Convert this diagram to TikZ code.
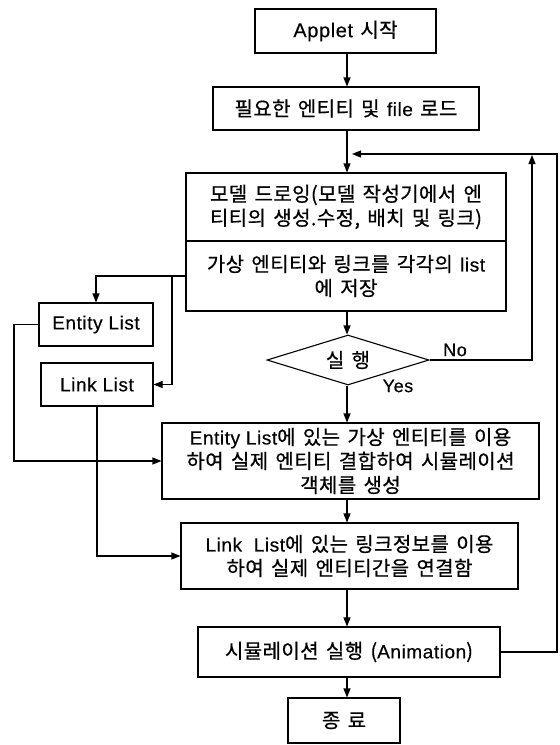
\documentclass[tikz,border=0pt]{standalone}
\usepackage{fontspec}
\setmainfont{Noto Sans CJK KR}[LetterSpace=2,WordSpace=1.5,FakeBold=0.6]
\newfontfamily\lat{Liberation Sans}[LetterSpace=3,FakeBold=0.4]
\newcommand{\la}[1]{{\lat\fontsize{19}{24}\selectfont #1}}
\usetikzlibrary{arrows.meta,shapes.geometric}
\tikzset{
  box/.style={draw, line width=1.1pt, align=center, inner sep=0pt},
  ln/.style={line width=1.1pt},
  arr/.style={line width=1.1pt, -{Triangle[length=9pt,width=7pt]}},
  lbl/.style={font=\lat\fontsize{18}{20}\selectfont, inner sep=0pt}
}
\begin{document}
\begin{tikzpicture}[x=1pt,y=-1pt,font=\fontsize{20}{24}\selectfont]
\useasboundingbox (0,0) rectangle (560,745);
\coordinate (col) at (347,0);
% main column
\node[box, minimum width=181pt, minimum height=44pt] (app) at (345.5,31) {{\lat\fontsize{20}{24}\selectfont Applet} 시작};
\node[box, minimum width=266pt, minimum height=43pt] (load) at (346,108.5) {필요한 엔티티 및 \la{file} 로드};
\node[box, minimum width=320pt, minimum height=68pt] (m1) at (346,207) {모델 드로잉(모델 작성기에서 엔\\티티의 생성.수정, 배치 및 링크)};
\node[box, minimum width=320pt, minimum height=70pt] (m2) at (346,276) {가상 엔티티와 링크를 각각의 \la{list}\\에 저장};
\node[draw, line width=1.1pt, shape=diamond, aspect=3.2, inner sep=0pt, minimum width=162pt, minimum height=50pt] (dia) at (348,360) {실 행};
\node[box, minimum width=377pt, minimum height=76pt] (b3) at (350.5,461) {\la{Entity List}에 있는 가상 엔티티를 이용\\하여 실제 엔티티 결합하여 시뮬레이션\\객체를 생성};
\node[box, minimum width=337pt, minimum height=66pt] (b4) at (349.5,556) {\la{Link\ \ List}에 있는 링크정보를 이용\\하여 실제 엔티티간을 연결함};
\node[box, minimum width=302pt, minimum height=50pt] (b5) at (349,652) {시뮬레이션 실행 (\la{Animation})};
\node[box, minimum width=112pt, minimum height=45pt] (end) at (344,720.5) {종 료};
% side lists
\node[box, minimum width=114pt, minimum height=43pt] (en) at (96,324.5) {\la{Entity List}};
\node[box, minimum width=112pt, minimum height=43pt] (lk) at (97,384.5) {\la{Link List}};
% labels
\node[lbl] (no) at (455,350) {No};
\node[lbl] (yes) at (398,386) {Yes};
% coordinates
\coordinate (fbR) at (557,154);
\coordinate (fbEnd) at (352,154);
\coordinate (noUp) at (532,155);
\coordinate (bx) at (172,276);
\coordinate (eL) at (14,461);
% main arrows
\draw[arr] (app.south -| col) -- (load.north -| col);
\draw[arr] (load.south -| col) -- (m1.north -| col);
\draw[arr] (m2.south -| col) -- (dia.north -| col);
\draw[arr] (dia.south -| col) -- (b3.north -| col);
\draw[arr] (b3.south -| col) -- (b4.north -| col);
\draw[arr] (b4.south -| col) -- (b5.north -| col);
\draw[arr] (b5.south -| col) -- (end.north -| col);
% loops
\draw[arr] (dia.east) -| (noUp);
\draw[arr] (b5.east) -| (fbR) -- (fbEnd);
% branches
\draw[arr] (m2.west) -| (en.north);
\draw[arr] (bx) |- (lk.east);
\draw[arr] (en.west) -| (eL) -- (b3.west);
\draw[arr] (lk.south) |- (b4.west);
\end{tikzpicture}
\end{document}
